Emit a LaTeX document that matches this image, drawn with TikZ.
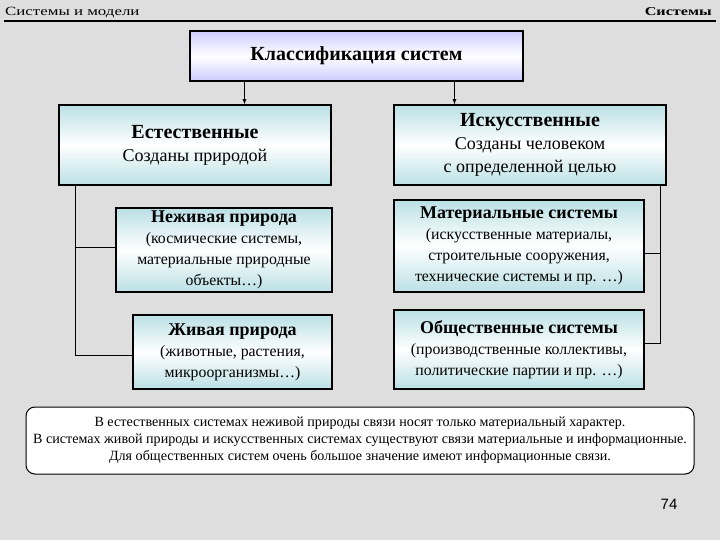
\documentclass[tikz,border=0pt]{standalone}
\usepackage{fontspec}
\setmainfont{Liberation Serif}
\newfontfamily\widefont{Liberation Serif}[FakeStretch=1.35]
\newfontfamily\numfont{Liberation Sans}
\definecolor{bgcol}{RGB}{222,222,222}
\definecolor{lav}{RGB}{204,204,255}
\definecolor{tealbox}{RGB}{186,224,229}

\begin{document}
\begin{tikzpicture}[x=1pt,y=-1pt]
\tikzset{titlebox/.style = {draw=black, line width=1.3pt, top color=lav, bottom color=lav, middle color=white, inner sep=0pt}}
\tikzset{kindbox/.style = {draw=black, line width=1.3pt, top color=tealbox, bottom color=tealbox, middle color=white, align=center, inner sep=0pt}}
\tikzset{notebox/.style = {draw=black, line width=1pt, fill=white, rounded corners=9pt, align=center, inner sep=0pt}}
\tikzset{arr/.style = {-latex, line width=0.8pt}}
\tikzset{tree/.style = {line width=0.9pt}}
\tikzset{big/.style = {font=\fontsize{18}{23}\selectfont}}
\tikzset{small/.style = {font=\fontsize{15.8}{21}\selectfont}}
\newcommand{\bighd}[1]{{\fontsize{20}{24}\selectfont\bfseries #1}}
\newcommand{\smallhd}[1]{{\fontsize{18}{22}\selectfont\bfseries #1}}

\fill[bgcol] (0,0) rectangle (720,540);

% header
\node[anchor=base west, inner sep=0pt, font=\widefont\fontsize{12.5}{14}\selectfont] (hleft) at (5,16) {Системы и модели};
\node[anchor=base east, inner sep=0pt, font=\widefont\fontsize{12}{14}\selectfont\bfseries] (hright) at (712,16) {Системы};
\draw[line width=1.5pt] (4,21)--(716,21);

    \node[titlebox, minimum width=333pt, minimum height=50pt, font=\fontsize{20}{24}\selectfont\bfseries] (title) at (356.5,56) {Классификация систем};

    \node[kindbox, big, minimum width=272pt, minimum height=80pt] (nat) at (195,145)
        {\bighd{Естественные}\\ Созданы природой};
    \node[kindbox, big, minimum width=272pt, minimum height=80pt] (art) at (530,145)
        {\bighd{Искусственные}\\ Созданы человеком\\ с определенной целью};

\draw[arr] ([xshift=-112pt]title.south) -- ([xshift=-112pt]title.south |- nat.north);
\draw[arr] ([xshift=98pt]title.south) -- ([xshift=98pt]title.south |- art.north);

    \node[kindbox, small, minimum width=216pt, minimum height=84pt] (nonliving) at (224,250)
        {\smallhd{Неживая природа}\\ (космические системы,\\ материальные природные\\ объекты\dots)};
    \node[kindbox, small, minimum width=199pt, minimum height=74pt] (living) at (232.5,352)
        {\smallhd{Живая природа}\\ (животные, растения,\\ микроорганизмы\dots)};

    \node[kindbox, small, minimum width=250pt, minimum height=92pt] (material) at (519,246)
        {\smallhd{Материальные системы}\\ (искусственные материалы,\\ строительные сооружения,\\ технические системы и пр. \dots)};
    \node[kindbox, small, minimum width=250pt, minimum height=79pt] (social) at (519,349.5)
        {\smallhd{Общественные системы}\\ (производственные коллективы,\\ политические партии и пр. \dots)};

\draw[tree] ([xshift=17pt]nat.south west) -- ([xshift=17pt,yshift=-3pt]nat.south west |- living.west) -- ([yshift=-3pt]living.west);
\draw[tree] ([xshift=17pt,yshift=3pt]nat.south west |- nonliving.west) -- ([yshift=3pt]nonliving.west);

\draw[tree] ([xshift=-6pt]art.south east) -- ([xshift=-6pt,yshift=6.5pt]art.south east |- social.east) -- ([yshift=6.5pt]social.east);
\draw[tree] ([xshift=-6pt,yshift=-7pt]art.south east |- material.east) -- ([yshift=-7pt]material.east);

    \node[notebox, minimum width=668pt, minimum height=67pt, font=\fontsize{14.1}{17}\selectfont] (note) at (360,440.5)
        {В естественных системах неживой природы связи носят только материальный характер.\\
         В системах живой природы и искусственных системах существуют связи материальные и информационные.\\
         Для общественных систем очень большое значение имеют информационные связи.};

\node[anchor=base, inner sep=0pt, font=\numfont\fontsize{15}{18}\selectfont] (page) at (669,509) {74};
\end{tikzpicture}
\end{document}
